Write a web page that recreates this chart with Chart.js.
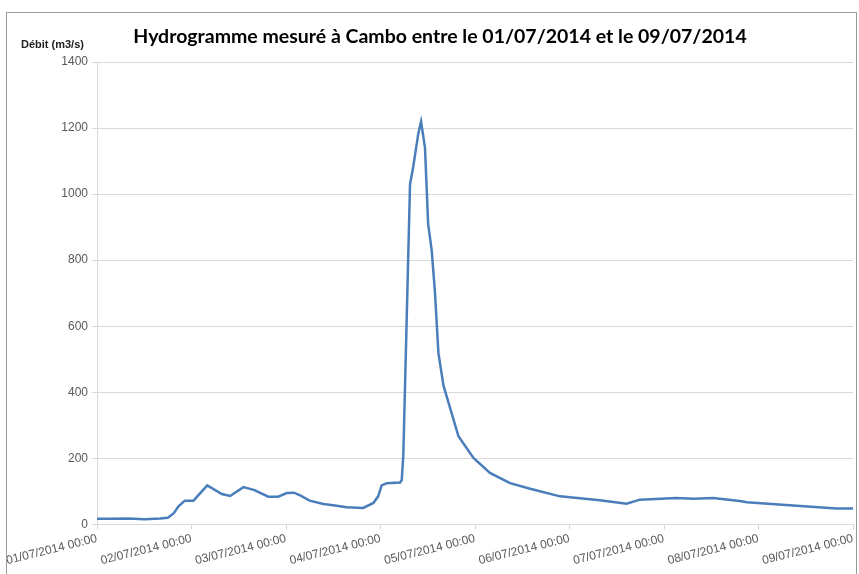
<!DOCTYPE html>
<html>
<head>
<meta charset="utf-8">
<script src="https://cdn.jsdelivr.net/npm/chart.js@4.4.1/dist/chart.umd.min.js"></script>
<style>
  html, body { margin: 0; padding: 0; background: #ffffff; overflow: hidden; }
  #wrap { position: relative; width: 859px; height: 574px; }
  #frame { position: absolute; left: 6px; top: 12px; width: 851px; height: 600px; border: 1px solid #9a9a9a; box-sizing: border-box; pointer-events: none; }
  canvas { position: absolute; left: 0; top: 0; }
</style>
</head>
<body>
<div id="wrap">
  <canvas id="c" width="859" height="574"></canvas>
  <div id="frame"></div>
</div>
<script>
// Time in hours since 01/07/2014 00:00
const hours = [0, 4, 8, 12, 16, 18, 19.5, 20.7, 22.3, 24.5, 28, 31.7, 33.8, 37.2, 40, 43.5, 46, 48.2, 50, 51.6, 54, 57.5, 60, 63.4, 67.6, 70.2, 71.4, 72.3, 73.6, 77, 77.4, 77.8, 79.5, 80.3, 81.6, 82.3, 83.3, 84.1, 85, 85.8, 86.7, 88, 91.8, 95.6, 99.8, 104.9, 110, 117.6, 127.7, 134.5, 137.9, 147.2, 151.4, 156.5, 163.7, 165, 176.8, 187.9, 192];
// Débit (m3/s)
const debit = [17, 17, 18, 16, 18, 20, 34, 55, 72, 72, 118, 92, 86, 113, 104, 84, 84, 95, 96, 88, 72, 62, 58, 52, 50, 65, 85, 118, 125, 127, 135, 212, 1030, 1082, 1183, 1220, 1140, 910, 830, 708, 520, 420, 267, 201, 156, 125, 108, 85, 73, 63, 75, 80, 78, 80, 70, 67, 57, 48, 48];
const tickLabels = ["01/07/2014 00:00", "02/07/2014 00:00", "03/07/2014 00:00", "04/07/2014 00:00", "05/07/2014 00:00", "06/07/2014 00:00", "07/07/2014 00:00", "08/07/2014 00:00", "09/07/2014 00:00"];
const yTicks = [0, 200, 400, 600, 800, 1000, 1200, 1400];
const titleText = "Hydrogramme mesuré à Cambo entre le 01/07/2014 et le 09/07/2014";
const yUnitText = "Débit (m3/s)";

const points = hours.map((h, i) => ({ x: h, y: debit[i] }));

const texts = {
  id: 'texts',
  afterDraw(chart) {
    const ctx = chart.ctx;
    ctx.save();
    ctx.font = 'bold 11px "Liberation Sans", Arial, sans-serif';
    ctx.fillStyle = '#222222';
    ctx.textAlign = 'left';
    ctx.textBaseline = 'middle';
    ctx.fillText(yUnitText, 21, 45);
    ctx.font = 'bold 19.5px Lato, "Liberation Sans", sans-serif';
    ctx.fillStyle = '#000000';
    ctx.textAlign = 'center';
    ctx.fillText(titleText, 440, 37);
    ctx.restore();
  }
};

new Chart(document.getElementById('c'), {
  type: 'line',
  data: {
    datasets: [{
      label: 'Débit',
      data: points,
      borderColor: '#4a7ebb',
      borderWidth: 2.5,
      pointRadius: 0,
      tension: 0,
      fill: false
    }]
  },
  options: {
    responsive: false,
    animation: false,
    layout: { padding: { left: 0, right: 6, top: 62, bottom: 4 } },
    plugins: {
      legend: { display: false },
      tooltip: { enabled: false },
      title: { display: false }
    },
    scales: {
      x: {
        type: 'linear',
        min: 0,
        max: 192,
        border: { display: true, color: '#d9d9d9', width: 1 },
        grid: { display: true, drawOnChartArea: false, drawTicks: true, tickLength: 5, color: '#d9d9d9' },
        ticks: {
          stepSize: 24,
          autoSkip: false,
          minRotation: 14,
          maxRotation: 14,
          padding: 2,
          color: '#595959',
          font: { family: '"Liberation Sans", Arial, sans-serif', size: 12 },
          callback: (v) => tickLabels[Math.round(v / 24)]
        }
      },
      y: {
        min: 0,
        max: 1400,
        afterFit(scale) { scale.width = 97; },
        border: { display: true, color: '#d9d9d9', width: 1 },
        grid: { color: '#d9d9d9', lineWidth: 1, tickLength: 5 },
        afterBuildTicks(scale) { scale.ticks = yTicks.map(v => ({ value: v })); },
        ticks: {
          padding: 4,
          color: '#595959',
          font: { family: '"Liberation Sans", Arial, sans-serif', size: 12 },
          callback: (v) => String(v)
        }
      }
    }
  },
  plugins: [texts]
});
</script>
</body>
</html>
